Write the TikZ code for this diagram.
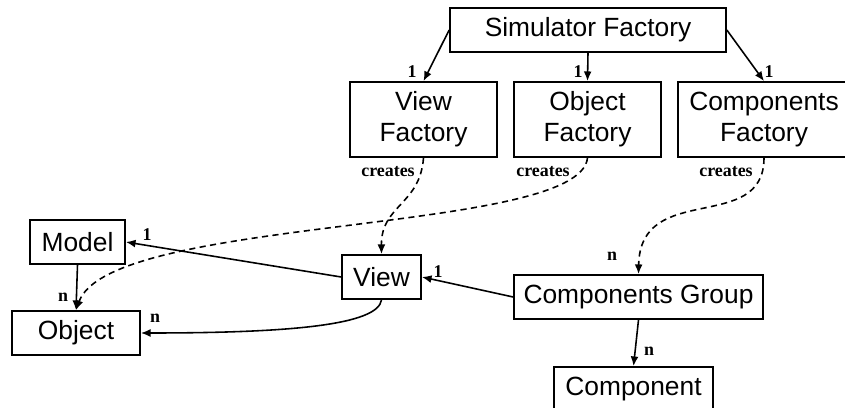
\documentclass[tikz,border=0pt]{standalone}
\usepackage{fontspec}
\setmainfont{Liberation Sans}
\newfontfamily\lblfont{Liberation Serif}
\usetikzlibrary{arrows.meta}

\tikzset{
  box/.style 2 args={draw, line width=1pt, fill=white, inner sep=0pt, align=center,
    minimum width=#1, minimum height=#2, font=\fontsize{15}{17.5}\selectfont},
  lbl/.style={inner sep=0pt, font=\lblfont\bfseries\fontsize{10.2}{12}\selectfont},
  conn/.style={line width=0.9pt, -{Latex[length=5.5pt,width=4.5pt]}},
  creates/.style={conn, dash pattern=on 3.5pt off 2.5pt},
}

\begin{document}
\begin{tikzpicture}[x=0.02cm, y=-0.02cm]
    \useasboundingbox (0,0) rectangle (845,408);

    % Factories
    \node[box={5.52cm}{0.88cm}] (sf) at (588,30) {Simulator Factory};
    \node[box={2.94cm}{1.5cm}] (vf) at (423.5,119.5) {View\\Factory};
    \node[box={2.94cm}{1.5cm}] (of) at (587.5,119.5) {Object\\Factory};
    \node[box={3.44cm}{1.5cm}] (cf) at (764,119.5) {Components\\Factory};

    % Created objects
    \node[box={1.9cm}{0.88cm}] (model) at (77.5,242) {Model};
    \node[box={2.56cm}{0.88cm}] (object) at (76,333) {Object};
    \node[box={1.58cm}{0.88cm}] (view) at (381.5,277) {View};
    \node[box={4.98cm}{0.88cm}] (cg) at (638.5,297) {Components Group};
    \node[box={3.18cm}{0.88cm}] (comp) at (633.5,389) {Component};

    % Simulator factory -> factories
    \draw[conn] (sf.west) -- (vf.north);
    \draw[conn] (sf.south) -- (of.north);
    \draw[conn] (sf.east) -- (cf.north);
    \node[lbl] (l1vf) at (412,72) {1};
    \node[lbl] (l1of) at (578,72) {1};
    \node[lbl] (l1cf) at (769,72) {1};

    % creates
    \draw[creates] (vf.south) .. controls (420,205) and (381,205) .. (view.north);
    \draw[creates] (of.south) .. controls (580,235) and (110,215) .. (object.north);
    \draw[creates] (cf.south) .. controls (764,235) and (640,180) .. (cg.north);
    \node[lbl] (crvf) at (388,172) {creates};
    \node[lbl] (crof) at (543,172) {creates};
    \node[lbl] (crcf) at (726,172) {creates};
    \node[lbl] (ncg) at (612,256) {n};

    % Associations
    \draw[conn] (view.west) -- (model.east);
    \draw[conn] (model.south) -- (object.north);
    \draw[conn] (view.south) .. controls (378,325) and (290,333) .. (object.east);
    \draw[conn] (cg.west) -- (view.east);
    \draw[conn] (cg.south) -- (comp.north);
    \node[lbl] (l1model) at (147,235) {1};
    \node[lbl] (nmodel) at (63,297) {n};
    \node[lbl] (nview) at (155,318) {n};
    \node[lbl] (l1view) at (438,272) {1};
    \node[lbl] (ncomp) at (649,351) {n};
\end{tikzpicture}
\end{document}
